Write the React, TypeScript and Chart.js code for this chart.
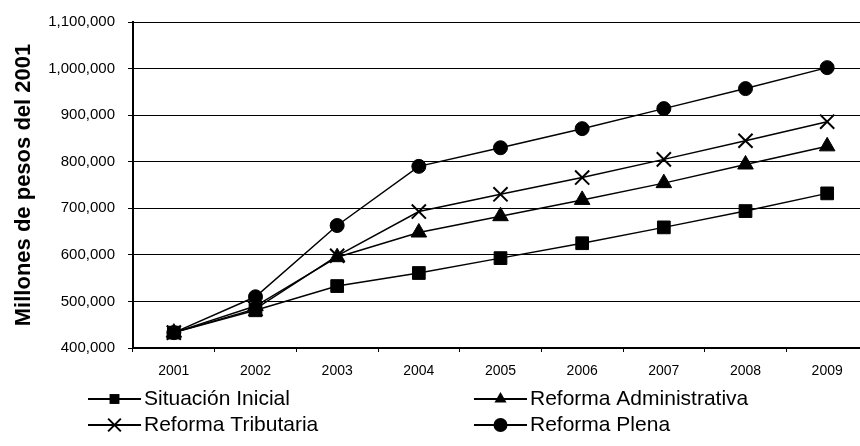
import React, { useEffect, useRef } from 'react';
import { Chart, registerables } from 'chart.js';

Chart.register(...registerables);

const years = ['2001', '2002', '2003', '2004', '2005', '2006', '2007', '2008', '2009'];
const situacionInicial = [433000, 481000, 533000, 561000, 593000, 625000, 659000, 694000, 732000];
const reformaAdministrativa = [433000, 490000, 595000, 648000, 683000, 718000, 754000, 794000, 833000];
const reformaTributaria = [433000, 484000, 598000, 693000, 730000, 766000, 805000, 845000, 886000];
const reformaPlena = [433000, 510000, 663000, 790000, 830000, 871000, 914000, 957000, 1002000];
const yMin = 400000;
const yMax = 1100000;
const yStep = 100000;
const yTitle = 'Millones de pesos del 2001';
const seriesNames = ['Situación Inicial', 'Reforma Administrativa', 'Reforma Tributaria', 'Reforma Plena'];

type Marker = 'rect' | 'triangle' | 'crossRot' | 'circle';

function drawMarker(ctx: CanvasRenderingContext2D, style: Marker, x: number, y: number, r: number) {
  ctx.save();
  ctx.fillStyle = '#000';
  ctx.strokeStyle = '#000';
  ctx.beginPath();
  if (style === 'rect') {
    const s = r * Math.SQRT1_2;
    ctx.rect(x - s, y - s, 2 * s, 2 * s);
    ctx.fill();
  } else if (style === 'circle') {
    ctx.arc(x, y, r, 0, Math.PI * 2);
    ctx.fill();
  } else if (style === 'triangle') {
    let a = 0;
    ctx.moveTo(x + Math.sin(a) * r, y - Math.cos(a) * r);
    a += (2 * Math.PI) / 3;
    ctx.lineTo(x + Math.sin(a) * r, y - Math.cos(a) * r);
    a += (2 * Math.PI) / 3;
    ctx.lineTo(x + Math.sin(a) * r, y - Math.cos(a) * r);
    ctx.closePath();
    ctx.fill();
  } else {
    const d = r * Math.SQRT1_2;
    ctx.lineWidth = 2;
    ctx.moveTo(x - d, y - d);
    ctx.lineTo(x + d, y + d);
    ctx.moveTo(x - d, y + d);
    ctx.lineTo(x + d, y - d);
    ctx.stroke();
  }
  ctx.restore();
}

const legendItems: { name: string; marker: Marker; col: number; row: number }[] = [
  { name: seriesNames[0], marker: 'rect', col: 0, row: 0 },
  { name: seriesNames[1], marker: 'triangle', col: 1, row: 0 },
  { name: seriesNames[2], marker: 'crossRot', col: 0, row: 1 },
  { name: seriesNames[3], marker: 'circle', col: 1, row: 1 },
];

const legendPlugin = {
  id: 'twoColLegend',
  afterDraw(chart: Chart) {
    const ctx = chart.ctx;
    const colX = [88, 474];
    const rowY = [399, 425];
    const lineLen = 53;
    ctx.save();
    legendItems.forEach((it) => {
      const x0 = colX[it.col];
      const y = rowY[it.row];
      ctx.strokeStyle = '#000';
      ctx.lineWidth = 2;
      ctx.beginPath();
      ctx.moveTo(x0, y);
      ctx.lineTo(x0 + lineLen, y);
      ctx.stroke();
      drawMarker(ctx, it.marker, x0 + lineLen / 2, y, it.marker === 'crossRot' ? 9 : 7);
      ctx.fillStyle = '#000';
      ctx.font = '21px "Liberation Sans", Arial, sans-serif';
      ctx.textAlign = 'left';
      ctx.textBaseline = 'middle';
      ctx.fillText(it.name, x0 + lineLen + 3, y);
    });
    ctx.restore();
  },
};

export default function App() {
  const ref = useRef<HTMLCanvasElement>(null);
  useEffect(() => {
    const canvas = ref.current;
    if (!canvas) return;
    const common = {
      borderColor: '#000',
      borderWidth: 1.5,
      pointBackgroundColor: '#000',
      pointBorderColor: '#000',
      tension: 0,
      fill: false,
    };
    const chart = new Chart(canvas, {
      type: 'line',
      data: {
        labels: years,
        datasets: [
          { ...common, label: seriesNames[0], data: situacionInicial, pointStyle: 'rect', pointRadius: 9, pointBorderWidth: 1 },
          { ...common, label: seriesNames[1], data: reformaAdministrativa, pointStyle: 'triangle', pointRadius: 9, pointBorderWidth: 1 },
          { ...common, label: seriesNames[2], data: reformaTributaria, pointStyle: 'crossRot', pointRadius: 10, pointBorderWidth: 2 },
          { ...common, label: seriesNames[3], data: reformaPlena, pointStyle: 'circle', pointRadius: 7, pointBorderWidth: 1 },
        ],
      },
      options: {
        responsive: false,
        animation: false,
        layout: { padding: { top: 21, right: 8, bottom: 58, left: 0 } },
        plugins: { legend: { display: false }, tooltip: { enabled: false } },
        scales: {
          x: {
            offset: true,
            grid: { display: true, drawOnChartArea: false, offset: true, tickLength: 4, color: '#000' },
            border: { color: '#000', width: 2 },
            ticks: { color: '#000', padding: 11, font: { family: '"Liberation Sans", Arial, sans-serif', size: 14 } },
            afterFit: (s: any) => { s.height = 40; },
          },
          y: {
            min: yMin,
            max: yMax,
            ticks: {
              stepSize: yStep,
              color: '#000',
              padding: 13,
              font: { family: '"Liberation Sans", Arial, sans-serif', size: 15 },
              callback: (v: any) => Number(v).toLocaleString('en-US'),
            },
            grid: { color: '#000', tickLength: 5, lineWidth: 1 },
            border: { color: '#000', width: 2 },
            title: {
              display: true,
              text: yTitle,
              color: '#000',
              padding: { top: 11, bottom: 0 },
              font: { family: '"Liberation Sans", Arial, sans-serif', size: 22, weight: 'bold' },
            },
            afterFit: (s: any) => { s.width = 133; },
          },
        },
      },
      plugins: [legendPlugin],
    });
    return () => chart.destroy();
  }, []);
  return (
    <div style={{ position: 'absolute', left: 0, top: 0, width: 860, height: 446, overflow: 'hidden', background: '#fff' }}>
      <canvas ref={ref} width={880} height={446} style={{ display: 'block', width: '880px', height: '446px' }} />
    </div>
  );
}
